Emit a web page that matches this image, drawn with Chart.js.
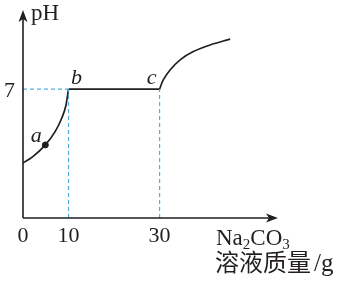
<!DOCTYPE html>
<html lang="zh">
<head>
  <meta charset="UTF-8">
  <title>pH 曲线</title>
  <script src="https://cdn.jsdelivr.net/npm/chart.js"></script>
  <style>
    html, body { margin: 0; padding: 0; background: #fff; }
    .chart-container { position: relative; width: 342px; height: 284px; }
  </style>
</head>
<body>
  <div class="chart-container">
    <canvas id="phChart"></canvas>
  </div>
  <script>
    // rising part before b (x = Na2CO3 mass / g, y = pH)
    const riseX = [0, 2.1, 4.9, 7.05, 8.5, 9.45, 10];
    const riseY = [2.99, 3.32, 3.97, 4.69, 5.42, 6.14, 7];
    // flat part b -> c
    const flatX = [10, 30];
    const flatY = [7, 7];
    // rising part after c
    const tailX = [30, 30.8, 32.3, 34.5, 37.4, 41.1, 45.5];
    const tailY = [7, 7.5, 8.04, 8.59, 9.04, 9.4, 9.72];
    // point a
    const pointA = [4.9, 3.97];

    const xTicks = [0, 10, 30];
    const yTicks = [7];
    const pointLabels = [
      { text: 'a', x: 4.9, y: 3.97, dx: -9, dy: -3 },
      { text: 'b', x: 10, y: 7, dx: 8, dy: -5 },
      { text: 'c', x: 30, y: 7, dx: -8, dy: -5 }
    ];

    const lineColor = '#231f20';
    const dashColor = '#4cb0e0';
    const serif = '"Liberation Serif", "DejaVu Serif", serif';
    const cjk = '"Noto Sans CJK SC", sans-serif';

    function toPoints(xs, ys) {
      return xs.map((x, i) => ({ x: x, y: ys[i] }));
    }

    function dashed(points) {
      return {
        data: points,
        borderColor: dashColor,
        borderWidth: 1.2,
        borderDash: [4, 3],
        pointRadius: 0,
        showLine: true,
        fill: false
      };
    }

    function curve(points, mode) {
      const ds = {
        data: points,
        borderColor: lineColor,
        borderWidth: 1.7,
        pointRadius: 0,
        showLine: true,
        fill: false,
        tension: 0
      };
      if (mode === 'monotone') ds.cubicInterpolationMode = 'monotone';
      if (mode === 'smooth') ds.tension = 0.35;
      return ds;
    }

    function arrow(ctx, x, y, dir) {
      // dir: 'up' or 'right'
      ctx.save();
      ctx.translate(x, y);
      if (dir === 'right') ctx.rotate(Math.PI / 2);
      ctx.beginPath();
      ctx.moveTo(0, 0);
      ctx.lineTo(4.5, 12);
      ctx.lineTo(0, 9);
      ctx.lineTo(-4.5, 12);
      ctx.closePath();
      ctx.fillStyle = lineColor;
      ctx.fill();
      ctx.restore();
    }

    const axesPlugin = {
      id: 'axesPlugin',
      afterDatasetsDraw(chart) {
        const ctx = chart.ctx;
        const xs = chart.scales.x;
        const ys = chart.scales.y;
        const x0 = xs.getPixelForValue(0);
        const y0 = ys.getPixelForValue(0);
        const top = chart.chartArea.top;
        const right = chart.chartArea.right;

        ctx.save();
        ctx.strokeStyle = lineColor;
        ctx.lineWidth = 1.6;
        ctx.beginPath();
        ctx.moveTo(x0, y0);
        ctx.lineTo(x0, top + 8);
        ctx.moveTo(x0, y0);
        ctx.lineTo(right - 8, y0);
        ctx.stroke();
        arrow(ctx, x0, top, 'up');
        arrow(ctx, right, y0, 'right');

        ctx.fillStyle = lineColor;
        ctx.font = '22px ' + serif;
        ctx.textBaseline = 'alphabetic';

        // tick labels
        ctx.textAlign = 'center';
        xTicks.forEach(v => {
          ctx.fillText(String(v), xs.getPixelForValue(v), y0 + 24);
        });
        ctx.textAlign = 'right';
        yTicks.forEach(v => {
          ctx.fillText(String(v), x0 - 8, ys.getPixelForValue(v) + 8);
        });

        // axis titles
        ctx.textAlign = 'left';
        ctx.font = '23px ' + serif;
        ctx.fillText('pH', x0 + 8, top + 10);

        let tx = 216;
        const ty = 245;
        const parts = [['Na', false], ['2', true], ['CO', false], ['3', true]];
        parts.forEach(([t, sub]) => {
          ctx.font = (sub ? '15px ' : '23px ') + serif;
          ctx.fillText(t, tx, sub ? ty + 4 : ty);
          tx += ctx.measureText(t).width;
        });
        ctx.font = '24px ' + cjk;
        ctx.fillText('溶液质量', 215, 271);
        const cw = ctx.measureText('溶液质量').width;
        ctx.font = '25px ' + serif;
        ctx.fillText('/g', 215 + cw + 3, 271);

        // point labels
        ctx.font = 'italic 22px ' + serif;
        ctx.textAlign = 'center';
        pointLabels.forEach(p => {
          const px = xs.getPixelForValue(p.x);
          const py = ys.getPixelForValue(p.y);
          ctx.fillText(p.text, px + p.dx, py + p.dy);
        });
        ctx.restore();
      }
    };

    const ctx = document.getElementById('phChart').getContext('2d');
    new Chart(ctx, {
      type: 'scatter',
      data: {
        datasets: [
          dashed([{ x: 0, y: 7 }, { x: 10, y: 7 }]),
          dashed([{ x: 10, y: 0 }, { x: 10, y: 7 }]),
          dashed([{ x: 30, y: 0 }, { x: 30, y: 7 }]),
          curve(toPoints(riseX, riseY), 'monotone'),
          curve(toPoints(flatX, flatY), 'straight'),
          curve(toPoints(tailX, tailY), 'smooth'),
          {
            data: [{ x: pointA[0], y: pointA[1] }],
            backgroundColor: lineColor,
            borderColor: lineColor,
            pointRadius: 3,
            showLine: false
          }
        ]
      },
      options: {
        responsive: true,
        maintainAspectRatio: false,
        animation: false,
        layout: { padding: { left: 23, top: 10, right: 64, bottom: 66 } },
        scales: {
          x: { type: 'linear', min: 0, max: 56, display: false },
          y: { type: 'linear', min: 0, max: 11.3, display: false }
        },
        plugins: {
          legend: { display: false },
          tooltip: { enabled: false }
        }
      },
      plugins: [axesPlugin]
    });
  </script>
</body>
</html>
